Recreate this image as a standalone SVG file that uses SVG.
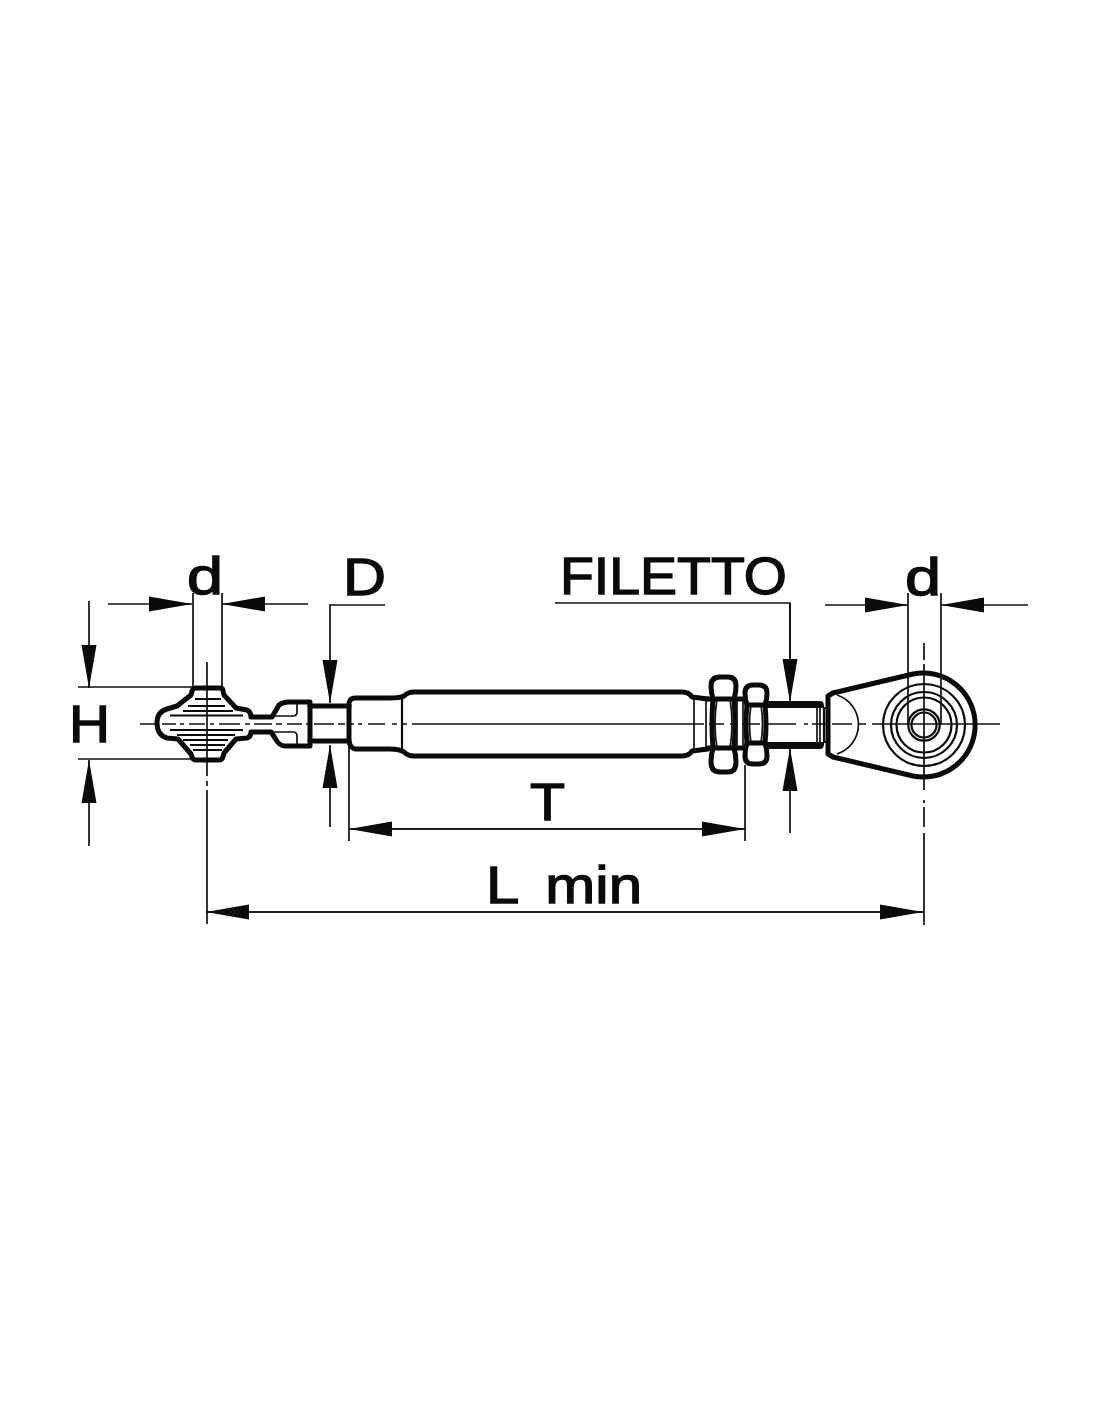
<svg xmlns="http://www.w3.org/2000/svg" width="1100" height="1422" viewBox="0 0 1100 1422">
<style>
.o{fill:none;stroke:#0a0a0a;stroke-width:5;stroke-linejoin:round;stroke-linecap:round}
.m{fill:none;stroke:#0a0a0a;stroke-width:2.2}
.t{fill:none;stroke:#111;stroke-width:1.7}
.c{fill:none;stroke:#111;stroke-width:1.7}
.a{fill:none;stroke:#111;stroke-width:1.7;marker-end:url(#ah)}
text{font-family:"Liberation Sans",Arial,sans-serif;font-size:52px;fill:#0a0a0a;stroke:#0a0a0a;stroke-width:1.3}
</style>
<defs>
<marker id="ah" markerUnits="userSpaceOnUse" markerWidth="46" markerHeight="18" refX="43" refY="8" orient="auto"><path d="M0,0.5L43,8L0,15.5Z" fill="#0a0a0a"/></marker>
</defs>
<rect width="1100" height="1422" fill="#fff"/>
<g id="left-eye">
<path class="o" d="M157,723C157,716 160,711 167,709L177,706L191,695L192,691Q193,688 196,688L220,688Q223,688 223,691L224,695L236,708L247,710Q251,712 251,717L272,717L279,705Q283,702 288,702L310,702L310,746L285,746Q279,746 275,738L271,732L251,732Q251,737 247,738L236,739L224,753L223,757Q222,760 219,760L196,760Q193,760 192,757L191,754L178,739L167,738C160,736 157,730 157,723Z"/>
<path class="m" d="M195,699H221M188,706H225M183,711H233M170,715.5H243M170,730H243M177,735H235M183,740H228M190,745H225M193,750H222"/>
<path class="t" d="M272,716H293Q297,716 297,712V704M272,732H293Q297,732 297,736V745"/>
</g>
<g id="rod">
<path class="o" d="M310,706H349M310,741H349"/>
</g>
<g id="barrel">
<path class="o" d="M349,741L349,703Q350,698 355,698L390,698Q400,698 404,696Q408,692 414,692L682,692Q689,692 692,697L708,699M349,741Q350,748 355,749L390,749Q400,749 404,752Q408,756 414,756L682,756Q689,756 692,751L708,749"/>
<path class="m" d="M402,697V751"/>
<path class="t" d="M694,698V750M706,699V749"/>
</g>
<g id="nuts">
<path class="o" d="M713,699Q711,692 711,686Q711,677 720,677H728Q736,677 736,686Q736,692 734,699Q736,724 734,748Q736,755 736,762Q736,772 728,772H720Q711,772 711,762Q711,755 713,748Q711,724 713,699Z"/>
<path class="o" d="M747,705Q745,700 745,693Q745,685 753,685H759Q767,685 767,693Q767,700 765,705Q767,724 765,743Q767,749 767,756Q767,764 759,764H753Q745,764 745,756Q745,749 747,743Q745,724 747,705Z"/>
<path class="o" d="M708,699H745M708,748H745M747,705H765M747,743H765"/>
<path class="t" d="M717,699Q713,724 717,748M730,699Q734,724 730,748M751,705Q748,724 751,743M761,705Q764,724 761,743M737,699V748M743,699V748"/>
</g>
<g id="thread">
<path fill="#0a0a0a" d="M767,701H820Q824,701 824,706V708H767ZM767,742H824V744Q824,749 820,749H767Z"/>
<path class="t" d="M817,708V742M820,708V742"/>
<path class="m" d="M824,708H828M824,742H828M824,708V742"/>
</g>
<g id="right-eye">
<path fill="none" stroke="#0a0a0a" stroke-width="5" stroke-linejoin="round" d="M828,745V696L833,693L913,674A52,52 0 1 1 913,776L833,757L828,754V745"/>
<path class="t" d="M837,695A31,31 0 0 1 837,754"/>
<circle class="m" cx="924" cy="725" r="41"/>
<circle class="m" cx="924" cy="725" r="33"/>
<circle class="m" cx="924" cy="725" r="27.5"/>
<circle class="m" cx="924" cy="725" r="15.7"/>
<circle class="m" cx="924" cy="725" r="12.5"/>
</g>
<g id="connectors">
<path class="c" d="M140,724H157M162,724H176M180,724H184M189,724H205M210,724H214M219,724H240M245,724H250M254,724H272M276,724H282M287,724H302M306,724H310M314,724H334M338,724H345M350,724H354M358,724H362M368,724H385M392,724H397M402,724H407M412,724H704M709,724H724M730,724H736M742,724H760M768,724H796M804,724H808M812,724H826M832,724H852M858,724H866M872,724H1000"/>
<path class="c" d="M207,662V776M207,781V786M207,790V924M924,643V660M924,664V790M924,800V803M924,807V827M924,833V925"/>
<path class="t" d="M193,593V688M222,593V688M908,593V725M941,593V725M78,687H192M78,759H192M329,605H385M555,603H790V660M349,745V841M745,765V841"/>
<path class="a" d="M108,604H192"/>
<path class="a" d="M308,604H222"/>
<path class="a" d="M825,605H908"/>
<path class="a" d="M1028,605H941"/>
<path class="a" d="M89,601V688"/>
<path class="a" d="M89,846V760"/>
<path class="a" d="M330,605V703"/>
<path class="a" d="M330,827V745"/>
<path class="a" d="M790,603V702"/>
<path class="a" d="M790,833V748"/>
<path class="a" d="M745,829H349"/>
<path class="a" d="M349,829H745"/>
<path class="a" d="M923,912H206"/>
<path class="a" d="M206,912H923"/>
</g>
<g id="labels">
<text x="187" y="594" textLength="36" lengthAdjust="spacingAndGlyphs">d</text>
<text x="343" y="595" textLength="43" lengthAdjust="spacingAndGlyphs">D</text>
<text x="560" y="594" textLength="227" lengthAdjust="spacingAndGlyphs">FILETTO</text>
<text x="905" y="595" textLength="36" lengthAdjust="spacingAndGlyphs">d</text>
<text x="69" y="742" textLength="41" lengthAdjust="spacingAndGlyphs">H</text>
<text x="530" y="820" textLength="35" lengthAdjust="spacingAndGlyphs">T</text>
<text x="486" y="903" word-spacing="10" textLength="156" lengthAdjust="spacingAndGlyphs">L min</text>
</g>
</svg>
